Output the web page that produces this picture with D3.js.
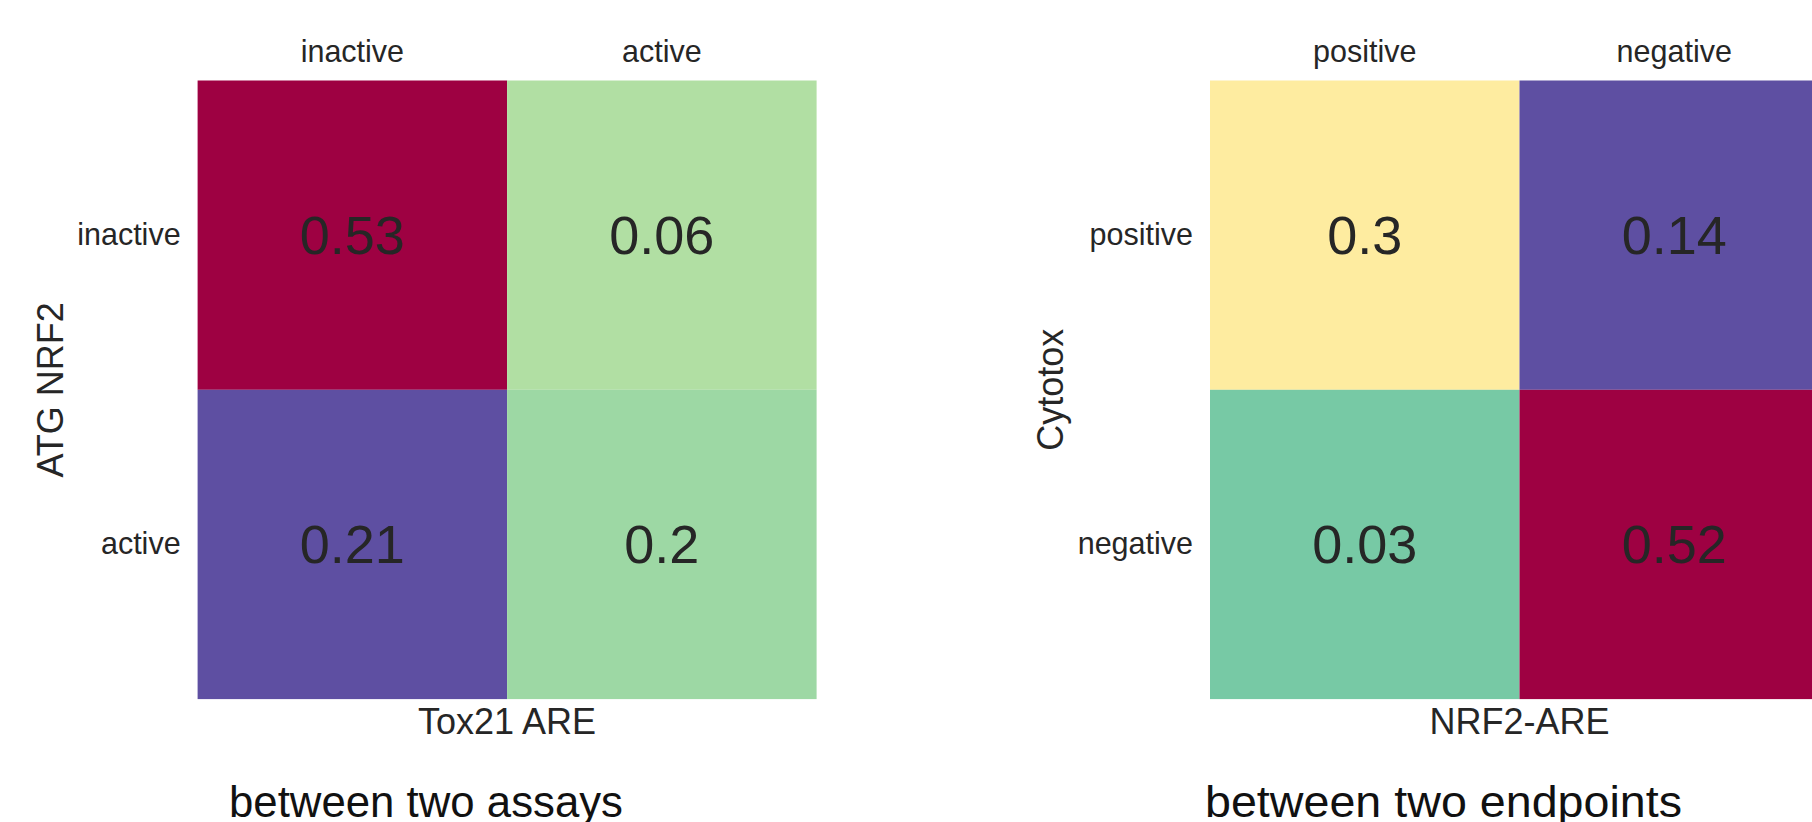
<!DOCTYPE html>
<html>
<head>
<meta charset="utf-8">
<script src="https://cdn.jsdelivr.net/npm/d3@7"></script>
<style>
  body { margin: 0; background: #fff; }
  svg { display: block; font-family: "Liberation Sans", Arial, sans-serif; }
</style>
</head>
<body>
<svg id="chart" width="1812" height="822"></svg>
<script>
// left panel: assays
var assayCols = ["inactive", "active"];
var assayRows = ["inactive", "active"];
var assayVals = [[0.53, 0.06], [0.21, 0.2]];
// colour position on the Spectral map
var assayShade = [[0.0, 0.69], [1.0, 0.72]];

// right panel: endpoints
var endpointCols = ["positive", "negative"];
var endpointRows = ["positive", "negative"];
var endpointVals = [[0.3, 0.14], [0.03, 0.52]];
var endpointShade = [[0.44, 1.0], [0.775, 0.0]];

var panels = [
  { cols: assayCols, rows: assayRows, vals: assayVals, shade: assayShade,
    xlab: "Tox21 ARE", ylab: "ATG NRF2", title: "between two assays",
    left: 197.6, ylabX: 63, titleX: 229, titleLen: 394 },
  { cols: endpointCols, rows: endpointRows, vals: endpointVals, shade: endpointShade,
    xlab: "NRF2-ARE", ylab: "Cytotox", title: "between two endpoints",
    left: 1210, ylabX: 1063, titleX: 1205, titleLen: 477 }
];

var svg = d3.select("#chart");
var top0 = 80.5, cellW = 309.5, cellH = 309.3;

// matplotlib style Spectral: linear between the 11 anchor colours
var spectral = d3.scaleLinear()
    .domain(d3.range(11).map(function(i) { return i / 10; }))
    .range(d3.schemeSpectral[11]);

panels.forEach(function(p) {
  var x = d3.scaleBand().domain(p.cols).range([p.left, p.left + cellW * p.cols.length]);
  var y = d3.scaleBand().domain(p.rows).range([top0, top0 + cellH * p.rows.length]);

  var cells = [];
  p.rows.forEach(function(r, i) {
    p.cols.forEach(function(c, j) {
      cells.push({ row: r, col: c, v: p.vals[i][j], t: p.shade[i][j] });
    });
  });

  var g = svg.append("g");

  g.selectAll("rect.cell")
    .data(cells)
    .enter().append("rect")
      .attr("class", "cell")
      .attr("x", function(d) { return x(d.col); })
      .attr("y", function(d) { return y(d.row); })
      .attr("width", x.bandwidth())
      .attr("height", y.bandwidth())
      .attr("fill", function(d) { return spectral(d.t); });

  g.selectAll("text.annot")
    .data(cells)
    .enter().append("text")
      .attr("class", "annot")
      .attr("x", function(d) { return x(d.col) + x.bandwidth() / 2; })
      .attr("y", function(d) { return y(d.row) + y.bandwidth() / 2; })
      .attr("dy", "0.34em")
      .attr("text-anchor", "middle")
      .attr("font-size", 54)
      .attr("fill", "#262626")
      .text(function(d) { return d.v; });

  // top ticks
  var xa = g.append("g")
      .attr("transform", "translate(0," + top0 + ")")
      .call(d3.axisTop(x).tickSize(0).tickPadding(19));
  xa.select(".domain").remove();
  xa.selectAll("text").attr("font-size", 30.5).attr("fill", "#262626")
      .attr("font-family", "Liberation Sans, Arial, sans-serif");

  // left ticks
  var ya = g.append("g")
      .attr("transform", "translate(" + p.left + ",0)")
      .call(d3.axisLeft(y).tickSize(0).tickPadding(17));
  ya.select(".domain").remove();
  ya.selectAll("text").attr("font-size", 30.5).attr("fill", "#262626")
      .attr("font-family", "Liberation Sans, Arial, sans-serif");

  var midX = p.left + cellW * p.cols.length / 2;
  g.append("text")
      .attr("x", midX)
      .attr("y", 734)
      .attr("text-anchor", "middle")
      .attr("font-size", 36)
      .attr("fill", "#262626")
      .text(p.xlab);

  g.append("text")
      .attr("transform", "translate(" + p.ylabX + "," + (top0 + cellH) + ") rotate(-90)")
      .attr("text-anchor", "middle")
      .attr("font-size", 36)
      .attr("fill", "#262626")
      .text(p.ylab);

  g.append("text")
      .attr("x", p.titleX)
      .attr("y", 817)
      .attr("font-size", 44)
      .attr("textLength", p.titleLen)
      .attr("lengthAdjust", "spacingAndGlyphs")
      .attr("fill", "#111")
      .text(p.title);
});
</script>
</body>
</html>
